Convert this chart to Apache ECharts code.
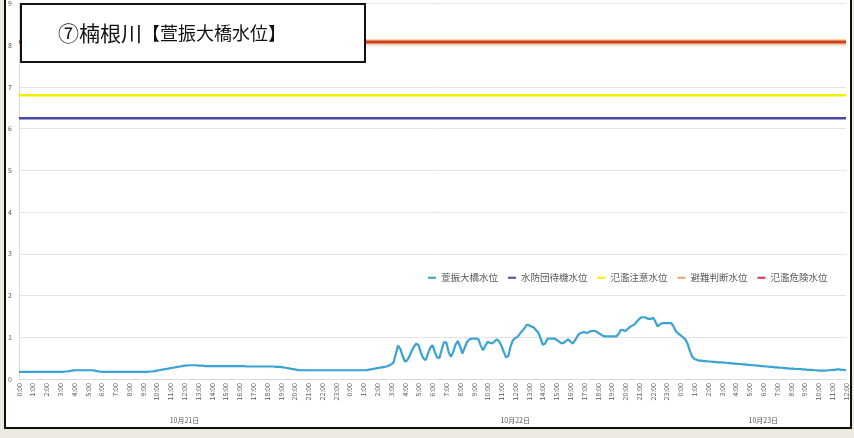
<!DOCTYPE html>
<html><head><meta charset="utf-8">
<script src="https://cdn.jsdelivr.net/npm/echarts@6/dist/echarts.min.js"></script>
<style>
html,body{margin:0;padding:0;background:#ece9e1;}
#frame{position:absolute;left:4px;top:-2px;width:844px;height:427px;background:#fff;border:2px solid #111;}
#chart{position:absolute;left:0;top:0;width:854px;height:438px;}
</style></head>
<body><div id="frame"></div><div id="chart"></div>
<script>
// ---- data ----
const dates = ['10月21日', '10月22日', '10月23日'];
const hoursPerDay = [24, 24, 13];
const seriesNames = ['萱振大橋水位', '水防団待機水位', '氾濫注意水位', '避難判断水位', '氾濫危険水位'];
const waitLevel = 6.25;
const cautionLevel = 6.8;
const judgeLevel = 8.08;
const dangerLevel = 8.08;
const yTicks = [0, 1, 2, 3, 4, 5, 6, 7, 8, 9];
// 10-minute water level (m), 10/21 0:00 – 10/23 12:00
const waterLevel = [
0.17,0.17,0.17,0.17,0.17,0.17,
0.17,0.17,0.17,0.17,0.17,0.17,
0.17,0.17,0.17,0.17,0.17,0.17,
0.17,0.17,0.18,0.18,0.19,0.20,
0.21,0.21,0.21,0.21,0.21,0.21,
0.21,0.21,0.21,0.20,0.19,0.18,
0.17,0.17,0.17,0.17,0.17,0.17,
0.17,0.17,0.17,0.17,0.17,0.17,
0.17,0.17,0.17,0.17,0.17,0.17,
0.17,0.17,0.17,0.18,0.18,0.19,
0.20,0.21,0.22,0.23,0.24,0.25,
0.26,0.27,0.28,0.29,0.30,0.31,
0.32,0.32,0.33,0.33,0.33,0.33,
0.32,0.32,0.32,0.31,0.31,0.31,
0.31,0.31,0.31,0.31,0.31,0.31,
0.31,0.31,0.31,0.31,0.31,0.31,
0.31,0.31,0.31,0.30,0.30,0.30,
0.30,0.30,0.30,0.30,0.30,0.30,
0.30,0.30,0.30,0.30,0.29,0.29,
0.29,0.28,0.27,0.26,0.25,0.24,
0.23,0.22,0.21,0.21,0.21,0.21,
0.21,0.21,0.21,0.21,0.21,0.21,
0.21,0.21,0.21,0.21,0.21,0.21,
0.21,0.21,0.21,0.21,0.21,0.21,
0.21,0.21,0.21,0.21,0.21,0.21,
0.21,0.21,0.22,0.23,0.24,0.25,
0.26,0.27,0.28,0.29,0.30,0.32,
0.35,0.39,0.60,0.80,0.72,0.55,
0.42,0.45,0.55,0.68,0.78,0.85,
0.80,0.62,0.50,0.45,0.60,0.75,
0.81,0.65,0.52,0.50,0.70,0.88,
0.88,0.65,0.53,0.65,0.82,0.91,
0.78,0.61,0.75,0.88,0.95,0.96,
0.97,0.97,0.95,0.80,0.69,0.80,
0.89,0.87,0.85,0.90,0.95,0.90,
0.80,0.65,0.52,0.55,0.78,0.93,
0.98,1.01,1.08,1.15,1.21,1.30,
1.29,1.26,1.24,1.17,1.12,0.98,
0.82,0.85,0.96,0.97,0.97,0.97,
0.94,0.90,0.86,0.86,0.91,0.95,
0.90,0.85,0.92,1.02,1.09,1.11,
1.13,1.10,1.12,1.15,1.15,1.15,
1.11,1.08,1.04,1.02,1.02,1.02,
1.02,1.02,1.02,1.08,1.18,1.17,
1.15,1.20,1.25,1.28,1.31,1.38,
1.44,1.48,1.48,1.47,1.44,1.44,
1.47,1.38,1.26,1.31,1.34,1.34,
1.34,1.34,1.34,1.25,1.14,1.09,
1.05,1.00,0.95,0.85,0.68,0.54,
0.48,0.46,0.44,0.44,0.43,0.43,
0.42,0.42,0.41,0.41,0.40,0.40,
0.40,0.39,0.39,0.38,0.38,0.37,
0.37,0.36,0.36,0.35,0.35,0.34,
0.34,0.33,0.33,0.32,0.32,0.31,
0.31,0.30,0.30,0.29,0.29,0.28,
0.28,0.27,0.27,0.26,0.26,0.25,
0.25,0.25,0.24,0.24,0.24,0.23,
0.23,0.22,0.22,0.22,0.21,0.21,
0.20,0.20,0.20,0.20,0.21,0.21,
0.22,0.22,0.23,0.23,0.22,0.22,
0.21
];

// ---- derived categories ----
const categories = [];
const dateCenter = {};
let start = 0;
dates.forEach((d, di) => {
  const n = hoursPerDay[di];
  for (let h = 0; h < n; h++) {
    const last = (di === dates.length - 1 && h === n - 1);
    const mins = last ? [0] : [0, 10, 20, 30, 40, 50];
    mins.forEach(m => categories.push(h + ':' + (m < 10 ? '0' + m : m)));
  }
  dateCenter[Math.floor(start + n / 2) * 6] = d;
  start += n;
});
const maxIdx = categories.length - 1;
const constLine = v => categories.map(() => v);

const font = '"Noto Sans CJK JP", "Noto Sans", sans-serif';
const chart = echarts.init(document.getElementById('chart'), null, {renderer: 'canvas'});
chart.setOption({
  backgroundColor: 'transparent',
  animation: false,
  textStyle: {fontFamily: font},
  grid: {left: 19, right: 8, top: 1, bottom: 59, containLabel: false},
  legend: {
    left: 423, top: 268, itemGap: 10, itemWidth: 8, itemHeight: 2, icon: 'rect',
    textStyle: {fontSize: 9.5, color: '#595959', fontFamily: font},
    data: seriesNames
  },
  xAxis: [{
    type: 'category', boundaryGap: false, data: categories,
    axisLine: {lineStyle: {color: '#d9d9d9'}},
    axisTick: {show: false},
    axisLabel: {interval: 5, rotate: 90, fontSize: 7, color: '#595959', margin: 4, fontFamily: font}
  }, {
    type: 'value', min: 0, max: maxIdx, interval: 6, position: 'bottom',
    axisLine: {show: false}, axisTick: {show: false}, splitLine: {show: false},
    axisLabel: {margin: 38, fontSize: 7, color: '#595959', fontFamily: font,
      showMinLabel: true, showMaxLabel: true,
      formatter: v => dateCenter[v] || ''}
  }],
  yAxis: {
    type: 'value', min: yTicks[0], max: yTicks[yTicks.length - 1], interval: 1,
    axisLine: {show: true, lineStyle: {color: '#d9d9d9'}},
    axisTick: {show: false},
    splitLine: {lineStyle: {color: '#e4e4e4'}},
    axisLabel: {fontSize: 7, color: '#595959', margin: 7}
  },
  graphic: [{
    type: 'group', left: 20, top: 3, z: 100, children: [
      {type: 'rect', z: 100, shape: {x: 0, y: 0, width: 344, height: 58},
       style: {fill: '#fff', stroke: '#111', lineWidth: 2}},
      {type: 'text', z: 101, x: 37, y: 29, style: {
        text: '{a|⑦楠根川}{b|【萱振大橋水位】}', verticalAlign: 'middle',
        rich: {a: {fontSize: 21, fontFamily: font, fill: '#111'}, b: {fontSize: 18, fontFamily: font, fill: '#111'}}
      }}
    ]
  }],
  series: [
    {name: seriesNames[0], type: 'line', data: waterLevel, symbol: 'none', z: 5,
     lineStyle: {color: '#3ba2d4', width: 2.2}, itemStyle: {color: '#3ba2d4'}},
    {name: seriesNames[1], type: 'line', data: constLine(waitLevel), symbol: 'none',
     lineStyle: {color: '#4646a6', width: 2.5}, itemStyle: {color: '#4646a6'}},
    {name: seriesNames[2], type: 'line', data: constLine(cautionLevel), symbol: 'none',
     lineStyle: {color: '#f0f000', width: 2.5}, itemStyle: {color: '#f0f000'}},
    {name: seriesNames[3], type: 'line', data: constLine(judgeLevel), symbol: 'none',
     lineStyle: {color: '#f2a560', width: 5}, itemStyle: {color: '#f2a560'}},
    {name: seriesNames[4], type: 'line', data: constLine(dangerLevel), symbol: 'none',
     lineStyle: {color: '#c8402c', width: 2.5}, itemStyle: {color: '#e0304a'}}
  ]
});
</script>
</body></html>
